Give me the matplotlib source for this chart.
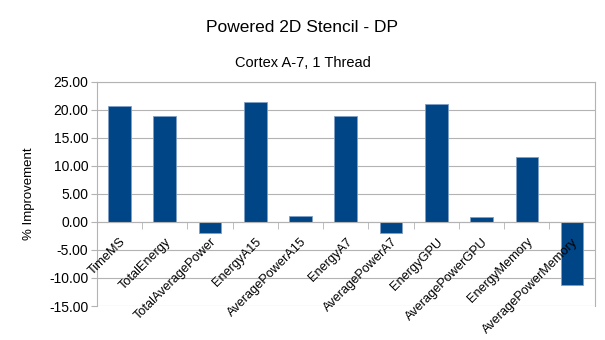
import matplotlib.pyplot as plt
import numpy as np

plt.rcParams['font.family'] = ['Liberation Sans', 'DejaVu Sans']

# values
metrics = ["TimeMS", "TotalEnergy", "TotalAveragePower", "EnergyA15",
           "AveragePowerA15", "EnergyA7", "AveragePowerA7", "EnergyGPU",
           "AveragePowerGPU", "EnergyMemory", "AveragePowerMemory"]
improvement = [20.65, 18.95, -2.0, 21.35, 1.05, 18.95, -1.95, 21.15, 0.85, 11.55, -11.2]
y_ticks = [25, 20, 15, 10, 5, 0, -5, -10, -15]

fig = plt.figure(figsize=(6.05, 3.4), dpi=100)
ax = fig.add_axes([0.160, 0.10, 0.823, 0.659])

x = np.arange(len(metrics))
ax.bar(x, improvement, width=0.5, color="#004586", edgecolor="#7f9fc6",
       linewidth=0.6, zorder=2)

ax.set_xlim(-0.5, len(metrics) - 0.5)
ax.set_ylim(-15, 25)
ax.set_yticks(y_ticks)
ax.set_yticklabels([f"{v:.2f}" for v in y_ticks], fontsize=10)
ax.yaxis.grid(True, color="#b3b3b3", linewidth=0.8)
ax.tick_params(axis="y", length=4, color="#b3b3b3", pad=2)

# x axis sits on the zero line, ticks between categories
ax.spines["bottom"].set_position(("data", 0))
ax.set_xticks(x + 0.0)
ax.set_xticklabels(metrics, rotation=45, ha="right", va="top",
                   rotation_mode="anchor", fontsize=9.2)
ax.set_xticks(np.arange(len(metrics) + 1) - 0.5, minor=True)
ax.tick_params(axis="x", which="major", length=0, pad=10)
ax.tick_params(axis="x", which="minor", length=5, color="#b3b3b3")

# grid under the bars, x labels over them
ax.yaxis.set_zorder(0.5)
ax.xaxis.set_zorder(5)

for s in ax.spines.values():
    s.set_color("#b3b3b3")
    s.set_linewidth(0.8)

ax.set_ylabel("% Improvement", fontsize=9.5, labelpad=10)

fig.text(0.5, 0.92, "Powered 2D Stencil - DP", ha="center", va="center", fontsize=12.5)
fig.text(0.5, 0.815, "Cortex A-7, 1 Thread", ha="center", va="center", fontsize=10.5)

fig.savefig("out.png", dpi=100)
